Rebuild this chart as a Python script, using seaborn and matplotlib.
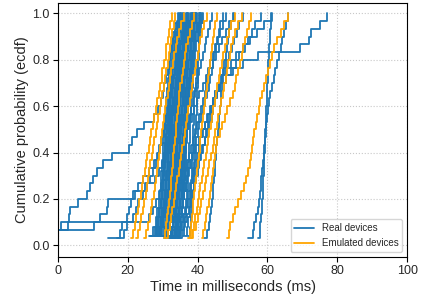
import pandas as pd
import matplotlib
matplotlib.use("Agg")
import matplotlib.pyplot as plt
import seaborn as sns
import numpy as np

# latency samples (ms) per device
# real devices - left tails
real_a = [-2.0, -1.0, 2.9, 3.1, 3.6, 5.7, 8.3, 9.2, 10.1, 11.2, 13.0, 15.5, 20.4, 21.2, 22.8,
          24.6, 27.5, 28.6, 29.4, 30.0, 30.5, 31.0, 31.4, 31.8, 32.2, 32.6, 33.0, 33.5, 34.1, 35.0]
real_b = [-3.0, -1.5, 10.3, 12.0, 14.0, 14.3, 21.5, 25.0, 27.8, 29.0, 29.8, 30.4, 30.9, 31.3, 31.7,
          32.0, 32.4, 32.7, 33.1, 33.4, 33.8, 34.2, 34.6, 35.0, 35.5, 36.0, 36.6, 37.3, 38.2, 39.5]
real_c = [-2.0, -1.5, 0.8, 26.0, 27.2, 28.1, 28.9, 29.5, 30.0, 30.4, 30.8, 31.1, 31.4, 31.7, 32.0,
          32.3, 32.6, 32.9, 33.2, 33.5, 33.8, 34.1, 34.5, 34.9, 35.3, 35.8, 36.4, 37.1, 38.0, 39.2]
real_d = [14.3, 17.8, 18.5, 19.8, 20.5, 21.0, 22.0, 23.0, 24.5, 26.0, 27.5, 28.3, 29.0, 29.6, 30.1,
          30.6, 31.0, 31.4, 31.8, 32.2, 32.6, 33.0, 33.4, 33.8, 34.3, 34.8, 35.4, 36.1, 37.0, 38.3]
real_e = [16.8, 18.8, 19.8, 21.5, 22.5, 23.0, 24.5, 25.5, 26.5, 27.3, 28.0, 28.7, 29.3, 29.8, 30.3,
          30.7, 31.1, 31.5, 31.9, 32.3, 32.7, 33.1, 33.5, 34.0, 34.5, 35.1, 35.8, 36.6, 37.6, 39.0]

# real devices - main bundle
real_01 = [26.0, 27.3, 28.0, 28.5, 28.9, 29.2, 29.4, 29.6, 29.8, 30.0, 30.2, 30.4, 30.5, 30.7, 30.9,
           31.1, 31.3, 31.5, 31.8, 32.1, 32.4, 32.7, 33.1, 33.6, 34.3]
real_02 = [27.2, 28.0, 28.6, 29.0, 29.4, 29.7, 29.9, 30.1, 30.3, 30.5, 30.7, 30.9, 31.0, 31.2, 31.4,
           31.6, 31.8, 32.0, 32.3, 32.6, 32.9, 33.2, 33.6, 34.1, 34.8]
real_03 = [26.8, 28.3, 29.0, 29.5, 29.8, 30.1, 30.4, 30.6, 30.8, 31.0, 31.2, 31.4, 31.5, 31.7, 31.9,
           32.1, 32.3, 32.5, 32.8, 33.1, 33.4, 33.7, 34.1, 34.6, 35.3]
real_04 = [28.4, 29.0, 29.5, 29.9, 30.3, 30.6, 30.9, 31.1, 31.3, 31.5, 31.7, 31.9, 32.0, 32.2, 32.4,
           32.6, 32.8, 33.0, 33.3, 33.6, 33.9, 34.2, 34.6, 35.1, 35.8]
real_05 = [27.5, 28.9, 29.6, 30.1, 30.5, 30.8, 31.1, 31.3, 31.6, 31.8, 32.0, 32.2, 32.3, 32.5, 32.7,
           32.9, 33.1, 33.3, 33.6, 33.9, 34.2, 34.5, 34.9, 35.4, 36.1]
real_06 = [29.0, 29.6, 30.2, 30.7, 31.0, 31.3, 31.6, 31.8, 32.1, 32.3, 32.5, 32.7, 32.8, 33.0, 33.2,
           33.4, 33.6, 33.8, 34.1, 34.4, 34.7, 35.0, 35.4, 35.9, 36.6]
real_07 = [28.2, 29.9, 30.5, 31.0, 31.4, 31.7, 32.0, 32.2, 32.5, 32.7, 32.9, 33.1, 33.2, 33.4, 33.6,
           33.8, 34.0, 34.2, 34.5, 34.8, 35.1, 35.4, 35.8, 36.3, 37.0]
real_08 = [30.1, 30.6, 31.0, 31.4, 31.8, 32.1, 32.4, 32.6, 32.9, 33.1, 33.3, 33.5, 33.6, 33.8, 34.0,
           34.2, 34.4, 34.6, 34.9, 35.2, 35.5, 35.8, 36.2, 36.7, 37.4]
real_09 = [29.5, 30.6, 31.3, 31.8, 32.2, 32.5, 32.8, 33.0, 33.3, 33.5, 33.7, 33.9, 34.0, 34.2, 34.4,
           34.6, 34.8, 35.0, 35.3, 35.6, 35.9, 36.2, 36.6, 37.1, 37.8]
real_10 = [31.0, 31.5, 31.9, 32.2, 32.6, 32.9, 33.2, 33.4, 33.7, 33.9, 34.1, 34.3, 34.4, 34.6, 34.8,
           35.0, 35.2, 35.4, 35.7, 36.0, 36.3, 36.6, 37.0, 37.5, 38.2]
real_11 = [30.2, 31.4, 32.1, 32.6, 33.0, 33.3, 33.6, 33.8, 34.1, 34.3, 34.5, 34.7, 34.8, 35.0, 35.2,
           35.4, 35.6, 35.8, 36.1, 36.4, 36.7, 37.0, 37.4, 37.9, 38.6]
real_12 = [32.0, 32.5, 32.9, 33.2, 33.5, 33.8, 34.0, 34.2, 34.5, 34.7, 34.9, 35.1, 35.2, 35.4, 35.6,
           35.8, 36.0, 36.2, 36.5, 36.8, 37.1, 37.4, 37.8, 38.3, 39.0]
real_13 = [31.3, 32.6, 33.2, 33.6, 34.0, 34.3, 34.5, 34.7, 34.9, 35.1, 35.3, 35.5, 35.6, 35.8, 36.0,
           36.2, 36.4, 36.6, 36.9, 37.2, 37.5, 37.8, 38.2, 38.7, 39.4]
real_14 = [33.0, 33.5, 33.9, 34.2, 34.5, 34.8, 35.0, 35.2, 35.4, 35.6, 35.8, 35.9, 36.0, 36.2, 36.4,
           36.6, 36.8, 37.0, 37.3, 37.6, 37.9, 38.2, 38.6, 39.1, 39.8]
real_15 = [32.5, 33.8, 34.4, 34.8, 35.1, 35.4, 35.6, 35.8, 36.0, 36.2, 36.3, 36.4, 36.5, 36.7, 36.9,
           37.1, 37.3, 37.5, 37.8, 38.1, 38.4, 38.7, 39.1, 39.6, 40.3]
real_16 = [34.5, 34.9, 35.2, 35.5, 35.8, 36.0, 36.2, 36.4, 36.6, 36.7, 36.8, 36.9, 37.0, 37.2, 37.4,
           37.6, 37.8, 38.0, 38.3, 38.6, 38.9, 39.2, 39.6, 40.1, 40.8]
real_17 = [27.0, 28.5, 29.5, 30.3, 30.9, 31.4, 31.8, 32.1, 32.4, 32.7, 32.9, 33.1, 33.3, 33.5, 33.8,
           34.1, 34.4, 34.7, 35.0, 35.4, 35.8, 36.3, 36.9, 37.6, 38.5]
real_18 = [37.2, 37.8, 38.1, 38.3, 38.5, 38.7, 38.9, 39.0, 39.1, 39.2, 39.3, 39.4, 39.5, 39.6, 39.7,
           39.8, 39.9, 40.0, 40.1, 40.2, 40.3, 40.4, 40.5, 40.6, 40.8]
real_19 = [28.9, 29.5, 30.0, 30.4, 30.7, 30.9, 31.1, 31.3, 31.4, 31.5, 31.6, 31.7, 31.8, 31.9, 32.0,
           32.1, 32.3, 32.5, 32.7, 32.9, 33.2, 33.5, 33.9, 34.4, 35.2]
real_20 = [27.9, 29.2, 30.0, 30.6, 31.0, 31.4, 31.7, 31.9, 32.1, 32.3, 32.4, 32.5, 32.6, 32.8, 33.0,
           33.2, 33.4, 33.7, 34.0, 34.3, 34.6, 35.0, 35.5, 36.1, 36.9]
real_21 = [30.5, 31.2, 31.7, 32.0, 32.3, 32.6, 32.8, 33.0, 33.1, 33.2, 33.3, 33.4, 33.5, 33.6, 33.8,
           34.0, 34.2, 34.4, 34.7, 35.0, 35.3, 35.7, 36.1, 36.6, 37.3]
real_22 = [29.8, 31.0, 31.8, 32.4, 32.8, 33.2, 33.5, 33.7, 33.9, 34.0, 34.1, 34.2, 34.3, 34.5, 34.7,
           34.9, 35.1, 35.4, 35.7, 36.0, 36.4, 36.8, 37.3, 37.9, 38.8]
real_23 = [31.8, 32.6, 33.1, 33.5, 33.9, 34.2, 34.4, 34.6, 34.7, 34.8, 34.9, 35.0, 35.1, 35.3, 35.5,
           35.7, 35.9, 36.1, 36.4, 36.7, 37.0, 37.4, 37.9, 38.5, 39.3]
real_24 = [33.5, 34.0, 34.4, 34.7, 35.0, 35.2, 35.4, 35.5, 35.6, 35.7, 35.8, 35.9, 36.0, 36.1, 36.3,
           36.5, 36.7, 36.9, 37.1, 37.4, 37.7, 38.0, 38.4, 38.9, 39.6]
real_25 = [34.0, 34.6, 35.1, 35.5, 35.8, 36.0, 36.2, 36.3, 36.4, 36.5, 36.6, 36.7, 36.8, 36.9, 37.1,
           37.3, 37.5, 37.7, 38.0, 38.3, 38.6, 39.0, 39.4, 39.9, 40.6]
real_26 = [35.8, 36.2, 36.5, 36.8, 37.0, 37.1, 37.2, 37.3, 37.4, 37.5, 37.6, 37.7, 37.8, 37.9, 38.0,
           38.2, 38.4, 38.6, 38.8, 39.0, 39.3, 39.6, 40.0, 40.5, 41.2]
real_27 = [26.5, 27.8, 28.5, 29.0, 29.4, 29.7, 30.0, 30.2, 30.4, 30.6, 30.8, 31.0, 31.2, 31.4, 31.6,
           31.8, 32.0, 32.3, 32.6, 32.9, 33.3, 33.7, 34.2, 34.9, 35.8]
real_28 = [28.8, 30.4, 31.3, 31.9, 32.4, 32.8, 33.1, 33.3, 33.5, 33.7, 33.8, 33.9, 34.0, 34.2, 34.4,
           34.6, 34.9, 35.2, 35.5, 35.9, 36.3, 36.8, 37.4, 38.1, 39.0]
real_29 = [32.8, 33.6, 34.3, 34.8, 35.2, 35.5, 35.8, 36.0, 36.1, 36.2, 36.3, 36.4, 36.5, 36.7, 36.9,
           37.1, 37.3, 37.6, 37.9, 38.2, 38.5, 38.9, 39.4, 40.0, 40.9]
real_30 = [36.5, 37.0, 37.4, 37.7, 37.9, 38.1, 38.2, 38.3, 38.4, 38.5, 38.6, 38.7, 38.8, 38.9, 39.0,
           39.1, 39.3, 39.5, 39.7, 39.9, 40.1, 40.4, 40.7, 41.0, 41.5]

# real devices - long right tails
real_s1 = [30.5, 31.5, 32.2, 32.8, 33.2, 33.6, 34.0, 34.3, 34.6, 34.9, 35.2, 35.5, 35.8, 36.1, 36.5,
           37.5, 38.3, 39.0, 39.8, 40.5, 41.5, 42.3, 43.0, 44.5, 45.2, 46.0, 47.0, 48.0, 49.0, 50.3]
real_s2 = [32.5, 33.5, 34.2, 34.8, 35.3, 35.8, 36.2, 36.6, 37.0, 37.5, 38.0, 38.8, 39.5, 40.3, 41.2,
           42.0, 42.8, 43.5, 44.3, 45.0, 46.5, 48.0, 49.5, 51.0, 52.0, 53.5, 54.5, 55.5, 56.5, 58.3]
real_s3 = [33.5, 34.5, 35.2, 35.8, 36.3, 36.8, 37.3, 37.8, 38.3, 38.8, 39.3, 39.8, 40.3, 40.8, 41.5,
           42.2, 43.0, 43.8, 44.6, 45.5, 46.5, 48.0, 50.0, 53.0, 57.3, 69.3, 72.0, 72.5, 75.0, 77.0]
real_s4 = [31.5, 32.3, 32.9, 33.4, 33.8, 34.2, 34.6, 34.9, 35.2, 35.5, 35.8, 36.1, 36.4, 36.7, 37.0,
           37.4, 37.8, 38.2, 38.6, 39.0, 39.5, 40.0, 40.5, 41.0, 41.5, 42.0, 42.5, 43.0, 43.5, 44.0]
real_s5 = [33.0, 33.8, 34.4, 34.9, 35.4, 35.8, 36.2, 36.6, 37.0, 37.4, 37.8, 38.5, 39.0, 39.5, 40.0,
           40.5, 41.0, 41.6, 42.2, 42.8, 43.2, 43.6, 44.0, 44.4, 44.8, 45.2, 45.6, 46.0, 46.5, 47.2]
real_s6 = [34.0, 35.0, 35.6, 36.2, 36.7, 37.2, 37.7, 38.2, 38.7, 39.3, 39.9, 40.6, 41.3, 42.0, 42.7,
           43.3, 44.0, 44.5, 45.0, 45.5, 46.0, 46.8, 47.5, 48.2, 49.0, 49.8, 50.5, 51.3, 52.0, 53.0]
real_s7 = [41.8, 42.8, 43.3, 43.6, 43.9, 44.1, 44.3, 44.5, 44.7, 44.9, 45.0, 45.2, 45.4, 45.6, 45.8,
           46.0, 46.2, 46.4, 46.6, 46.8, 47.0, 47.2, 47.4, 47.7, 48.0, 48.3, 48.6, 49.0, 49.5, 50.2]
real_s8 = [54.5, 55.8, 56.2, 56.8, 57.3, 57.6, 57.9, 58.1, 58.3, 58.5, 58.7, 58.9, 59.1, 59.3, 59.5,
           59.7, 59.9, 60.1, 60.4, 60.8, 61.3, 61.8, 62.3, 62.8, 63.3, 63.8, 64.3, 64.8, 65.4, 66.0]
real_s9 = [57.2, 57.8, 58.0, 58.2, 58.4, 58.5, 58.6, 58.7, 58.8, 58.9, 59.0, 59.1, 59.2, 59.3, 59.4,
           59.5, 59.6, 59.7, 59.8, 59.9, 60.0, 60.1, 60.2, 60.3, 60.4, 60.5, 60.6, 60.8, 61.0, 61.3]
real_s10 = [32.0, 33.0, 33.7, 34.2, 34.7, 35.1, 35.5, 35.9, 36.3, 36.7, 37.1, 37.6, 38.1, 38.7, 39.3,
            39.9, 40.5, 41.0, 41.5, 42.0, 42.4, 42.8, 43.2, 43.6, 44.3, 45.0, 45.8, 46.5, 47.3, 48.2]
real_s11 = [34.5, 35.5, 36.2, 36.9, 37.5, 38.0, 38.5, 39.0, 39.5, 40.0, 40.5, 41.0, 41.5, 42.0, 42.5,
            43.0, 43.5, 44.0, 44.5, 45.0, 46.0, 47.0, 48.0, 49.5, 51.0, 53.0, 55.0, 57.0, 59.0, 61.0]

# emulated devices
emu_1 = [20.8, 21.5, 22.1, 22.4, 22.9, 23.1, 23.7, 24.0, 24.3, 24.9, 25.2, 25.5, 26.1, 26.3, 26.8,
         27.2, 27.5, 28.1, 28.3, 28.9, 29.1, 29.7, 29.9, 30.4, 30.9, 31.1, 31.5, 31.9, 32.2, 32.6]
emu_2 = [22.4, 23.0, 23.5, 23.9, 24.3, 24.6, 25.1, 25.4, 25.8, 26.2, 26.5, 26.9, 27.3, 27.6, 28.1,
         28.4, 28.8, 29.2, 29.5, 29.9, 30.3, 30.6, 31.0, 31.4, 31.7, 32.1, 32.5, 32.8, 33.2, 33.6]
emu_3 = [24.6, 25.3, 25.8, 26.3, 26.6, 27.0, 27.4, 27.7, 28.0, 28.4, 28.7, 29.0, 29.3, 29.6, 29.9,
         30.2, 30.5, 30.8, 31.1, 31.5, 31.8, 32.2, 32.5, 32.9, 33.3, 33.7, 34.2, 34.7, 35.3, 36.0]
emu_4 = [30.3, 30.7, 31.0, 31.3, 31.6, 31.8, 32.0, 32.3, 32.5, 32.7, 32.9, 33.1, 33.3, 33.5, 33.7,
         33.9, 34.1, 34.3, 34.6, 34.8, 35.1, 35.4, 35.7, 36.0, 36.4, 36.8, 37.2, 37.7, 38.3, 39.0]
emu_5 = [31.0, 31.5, 32.0, 32.4, 32.8, 33.2, 33.5, 33.9, 34.2, 34.6, 34.9, 35.3, 35.6, 36.0, 36.3,
         36.7, 37.0, 37.4, 37.7, 38.1, 38.5, 38.8, 39.2, 39.6, 40.0, 40.4, 40.8, 41.3, 41.9, 42.7]
emu_6 = [37.2, 37.7, 38.0, 38.3, 38.6, 38.8, 39.1, 39.3, 39.6, 39.8, 40.1, 40.3, 40.6, 40.8, 41.1,
         41.3, 41.6, 41.9, 42.1, 42.4, 42.7, 42.9, 43.2, 43.5, 43.8, 44.1, 44.4, 44.7, 45.1, 45.6]
emu_7 = [38.0, 38.8, 39.5, 40.1, 40.6, 41.1, 41.6, 42.0, 42.5, 42.9, 43.4, 43.8, 44.3, 44.7, 45.1,
         45.5, 45.9, 46.4, 46.8, 47.2, 47.6, 48.0, 48.4, 48.8, 49.3, 49.7, 50.2, 50.8, 51.5, 52.7]
emu_8 = [41.2, 41.6, 42.0, 42.4, 42.8, 43.2, 43.5, 43.8, 44.1, 44.4, 44.7, 45.0, 45.3, 45.7, 46.3,
         47.0, 47.8, 48.5, 49.3, 50.0, 50.6, 51.1, 51.6, 52.1, 52.6, 53.1, 53.6, 54.1, 54.6, 55.2]
emu_9 = [48.4, 48.9, 49.4, 50.0, 50.8, 51.7, 52.5, 53.2, 53.8, 54.4, 55.0, 55.3, 55.6, 55.9, 56.2,
         56.6, 57.0, 57.5, 58.0, 58.5, 59.0, 59.6, 60.2, 60.8, 61.3, 62.0, 62.8, 63.8, 64.8, 66.0]
emu_10 = [37.8, 38.4, 38.9, 39.3, 39.7, 40.1, 40.5, 40.8, 41.2, 41.6, 41.9, 42.3, 42.6, 43.0, 43.4,
          43.7, 44.1, 44.5, 44.9, 45.3, 45.7, 46.1, 46.5, 46.9, 47.3, 47.8, 48.3, 48.9, 49.6, 50.6]

real_devices = [real_a, real_b, real_c, real_d, real_e,
                real_01, real_02, real_03, real_04, real_05, real_06, real_07, real_08, real_09,
                real_10, real_11, real_12, real_13, real_14, real_15, real_16, real_17, real_18,
                real_19, real_20, real_21, real_22, real_23, real_24, real_25, real_26, real_27,
                real_28, real_29, real_30,
                real_s1, real_s2, real_s3, real_s4, real_s5, real_s6, real_s7, real_s8, real_s9,
                real_s10, real_s11]
emulated_devices = [emu_1, emu_2, emu_3, emu_4, emu_5, emu_6, emu_7, emu_8, emu_9, emu_10]

# long form table: one ecdf per device
rows = []
for kind, group in [("Real devices", real_devices), ("Emulated devices", emulated_devices)]:
    for i, samples in enumerate(group):
        x = np.sort(samples)
        y = np.arange(1, len(x) + 1) / len(x)
        for xv, yv in zip(x, y):
            rows.append({"ms": xv, "ecdf": yv, "device": f"{kind}_{i}", "kind": kind})
df = pd.DataFrame(rows)

sns.set_style("ticks", {"axes.grid": True, "grid.linestyle": ":", "grid.color": "#c8c8c8",
                        "axes.edgecolor": "black"})
plt.rcParams["font.family"] = ["Liberation Sans", "DejaVu Sans"]

fig, ax = plt.subplots(figsize=(4.35, 2.97), dpi=100)
fig.subplots_adjust(left=0.133, right=0.936, top=0.99, bottom=0.135)

sns.lineplot(data=df, x="ms", y="ecdf", hue="kind", units="device", estimator=None,
             palette={"Real devices": "#1f77b4", "Emulated devices": "orange"},
             drawstyle="steps-post", linewidth=1.3, ax=ax)

ax.set_xlim(0, 100)
ax.set_ylim(-0.05, 1.045)
ax.set_xticks([0, 20, 40, 60, 80, 100])
ax.set_yticks([0.0, 0.2, 0.4, 0.6, 0.8, 1.0])
ax.tick_params(labelsize=9, color="black", length=3.5, pad=2.5)
ax.set_xlabel("Time in milliseconds (ms)", fontsize=10.5, labelpad=2)
ax.set_ylabel("Cumulative probability (ecdf)", fontsize=10.5, labelpad=2)

handles, labels = ax.get_legend_handles_labels()
ax.legend(handles, labels, loc="lower right", fontsize=7, frameon=True)

plt.savefig("out.png", dpi=100)
